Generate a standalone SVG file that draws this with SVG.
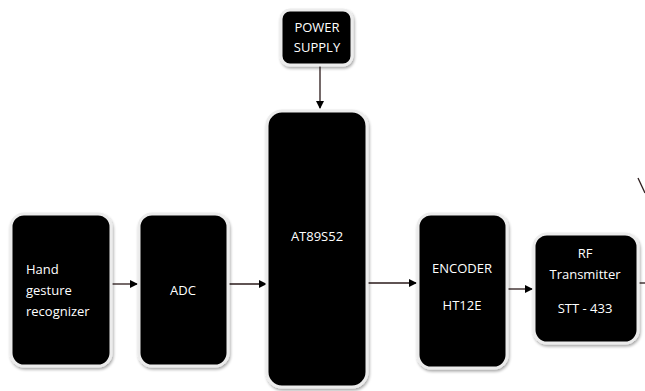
<svg xmlns="http://www.w3.org/2000/svg" width="645" height="391" viewBox="0 0 645 391">
<defs>
<filter id="sh" x="-20%" y="-20%" width="140%" height="140%">
<feGaussianBlur in="SourceAlpha" stdDeviation="1.5"/>
<feOffset dx="1" dy="2" result="b"/>
<feComponentTransfer><feFuncA type="linear" slope="0.35"/></feComponentTransfer>
<feMerge><feMergeNode/><feMergeNode in="SourceGraphic"/></feMerge>
</filter>
<marker id="ah" markerWidth="8" markerHeight="8" refX="7" refY="4" orient="auto" markerUnits="userSpaceOnUse">
<path d="M0,0 L8,4 L0,8 Z" fill="#000"/>
</marker>
<style>
.box{fill:#000;stroke:#ececec;stroke-width:3;filter:url(#sh)}
.t{fill:#fff;font-family:"Open Sans","Liberation Sans",sans-serif;font-size:13px}
.c{text-anchor:middle}
.ln{stroke:#2a1a1a;stroke-width:1.3;fill:none}
</style>
</defs>
<rect width="645" height="391" fill="#fff"/>
<g id="connectors">
<line class="ln" x1="320" y1="66" x2="320" y2="108" marker-end="url(#ah)"/>
<line class="ln" x1="112" y1="284" x2="137" y2="284" marker-end="url(#ah)"/>
<line class="ln" x1="229" y1="284" x2="266" y2="284" marker-end="url(#ah)"/>
<line class="ln" x1="368" y1="283" x2="416" y2="283" marker-end="url(#ah)"/>
<line class="ln" x1="508" y1="289" x2="532" y2="289" marker-end="url(#ah)"/>
<line class="ln" x1="639" y1="283" x2="645" y2="283"/>
<line class="ln" x1="638" y1="178" x2="645" y2="193" stroke="#555" stroke-width="1"/>
</g>
<g id="power">
<rect class="box" x="281" y="10" width="71" height="55" rx="9"/>
<text class="t c" x="317" y="32">POWER</text>
<text class="t c" x="317" y="52">SUPPLY</text>
</g>
<g id="mcu">
<rect class="box" x="267" y="111" width="100" height="276" rx="15"/>
<text class="t c" x="317" y="241">AT89S52</text>
</g>
<g id="hand">
<rect class="box" x="11" y="214" width="100" height="152" rx="13"/>
<text class="t" x="26" y="274">Hand</text>
<text class="t" x="26" y="295">gesture</text>
<text class="t" x="26" y="316">recognizer</text>
</g>
<g id="adc">
<rect class="box" x="139" y="214" width="89" height="152" rx="13"/>
<text class="t c" x="183" y="295">ADC</text>
</g>
<g id="encoder">
<rect class="box" x="418" y="214" width="89" height="154" rx="13"/>
<text class="t c" x="462" y="273">ENCODER</text>
<text class="t c" x="462" y="310">HT12E</text>
</g>
<g id="rf">
<rect class="box" x="534" y="234" width="104" height="109" rx="13"/>
<text class="t c" x="585" y="258">RF</text>
<text class="t c" x="585" y="279">Transmitter</text>
<text class="t c" x="585" y="313">STT - 433</text>
</g>
</svg>
